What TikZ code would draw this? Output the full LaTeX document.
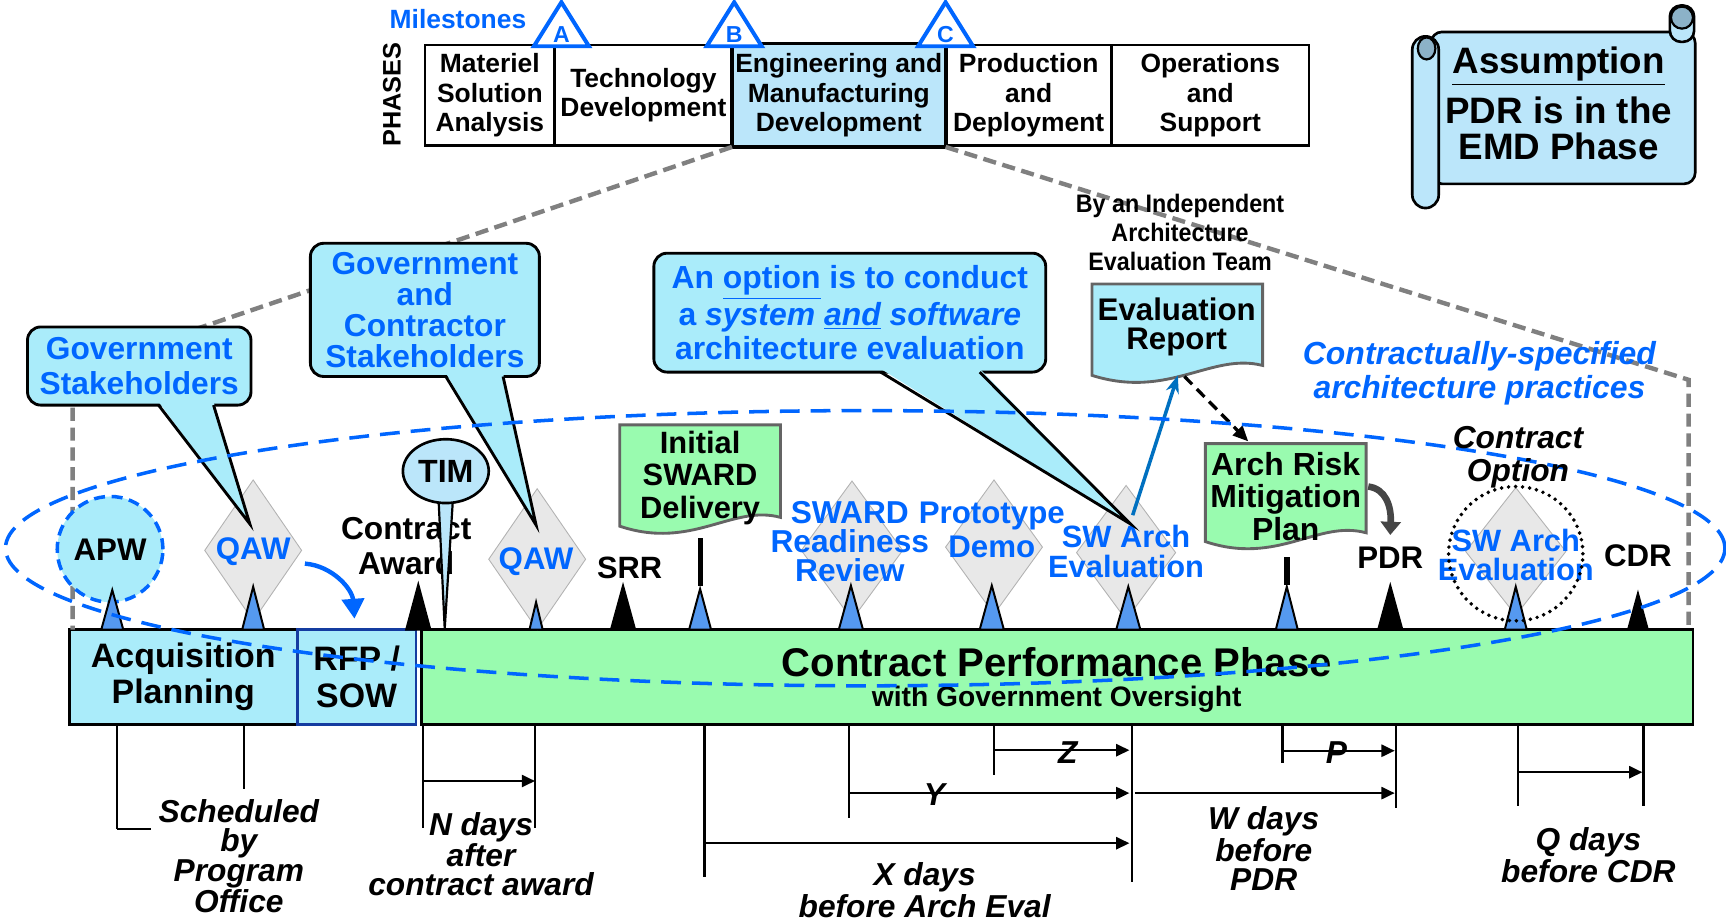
\documentclass[tikz,border=0pt]{standalone}
\usepackage{fontspec}
\setmainfont{Liberation Sans}
\newfontfamily\narrowsans[FakeStretch=0.92]{Liberation Sans}
\usetikzlibrary{arrows.meta,positioning,shapes.geometric,calc}

\definecolor{calloutcyan}{RGB}{170,236,250}
\definecolor{scrollblue}{RGB}{187,230,250}
\definecolor{scrollcurl}{RGB}{140,178,200}
\definecolor{phasegreen}{RGB}{153,251,175}
\definecolor{labelblue}{RGB}{0,102,255}
\definecolor{markblue}{RGB}{85,153,240}
\definecolor{diamgray}{RGB}{232,232,232}
\definecolor{guidegray}{RGB}{128,128,128}
\definecolor{docline}{RGB}{100,100,100}
\definecolor{arrowblue}{RGB}{0,112,192}
\definecolor{rfpborder}{RGB}{20,60,160}

\newcommand{\fs}[2]{\fontsize{#1}{#2}\selectfont}
% document shape with wavy bottom: fill, x1, x2, top, right bottom, left bottom
\newcommand{\wavedoc}[6]{%
  \filldraw[fill=#1, draw=docline, line width=1.3pt] (#2,#4) -- (#3,#4) -- (#3,#5)
    .. controls ({#3-0.3*(#3-#2)},{#5-12}) and ({#2+0.45*(#3-#2)},{#6+22}) .. (#2,#6) -- cycle;}
% callout pointer: left x, right x, box bottom, tip
\newcommand{\callptr}[4]{%
  \fill[calloutcyan] (#1,#3-3) -- (#4) -- (#2,#3-3) -- cycle;
  \draw[line width=1.3pt] (#1,#3) -- (#4) -- (#2,#3);}

\begin{document}
\begin{tikzpicture}[x=0.5pt, y=-0.5pt,
  phase/.style={draw, line width=1.2pt, inner sep=0pt, outer sep=0pt, minimum height=45.5pt, align=center, font={\bfseries\fs{12}{13.25}}},
  barbox/.style={draw, line width=1.2pt, inner sep=0pt, outer sep=0pt, minimum height=43pt, align=center, font={\bfseries\fs{15.4}{16.5}}},
  callbox/.style={draw, line width=1.3pt, fill=calloutcyan, rounded corners=6pt, inner sep=0pt, align=center, text=labelblue},
  gdiam/.style={diamond, fill=diamgray, draw=gray!60, line width=0.4pt, inner sep=0pt, outer sep=0pt},
  lbl/.style={inner sep=0pt, align=center},
  bluelbl/.style={lbl, text=labelblue},
  guide/.style={guidegray, line width=2pt, dash pattern=on 6pt off 3pt},
  bmark/.style={fill=markblue, draw=black, line width=0.9pt},
  kmark/.style={fill=black, draw=black, line width=0.9pt},
  dimline/.style={line width=1pt},
  dimarrow/.style={line width=1pt, -{Triangle[length=6pt,width=5.5pt]}},
  dimlbl/.style={inner sep=0pt, align=center, font={\bfseries\itshape\fs{14.4}{13.25}}}
]
\useasboundingbox (0,0) rectangle (1568,837);

% acquisition phases
\node[phase, anchor=west, minimum width=59pt] (msa) at (386,86.5) {Materiel\\Solution\\Analysis};
\node[phase, right=0pt of msa, minimum width=80.5pt] (tech) {Technology\\Development};
\node[phase, right=0pt of tech, minimum width=97pt, minimum height=47pt, fill=scrollblue, line width=1.8pt] (emd) {Engineering and\\Manufacturing\\Development};
\node[phase, right=0pt of emd, minimum width=75.5pt] (prod) {Production\\and\\Deployment};
\node[phase, right=0pt of prod, minimum width=89.5pt] (ops) {Operations\\and\\Support};
\node[lbl, rotate=90, font={\bfseries\fs{11.5}{12}}] (phlabel) at (356,86) {PHASES};
\node[bluelbl, font={\bfseries\fs{12}{13}}] (mslabel) at (416,17) {Milestones};
\foreach \x/\m in {510/A, 667/B, 859/C} {
  \filldraw[fill=white, draw=labelblue, line width=1.8pt] (\x-25,42) -- (\x,2) -- (\x+25,42) -- cycle;
  \node[bluelbl, font={\bfseries\fs{10.5}{11}}] (ms\m) at (\x,31) {\m};
}

% assumption scroll
\filldraw[fill=scrollblue, line width=1.2pt, rounded corners=5pt] (1300,29) -- (1540,29) -- (1540,167) -- (1300,167) -- cycle;
\filldraw[fill=scrollblue, line width=1.2pt, rounded corners=6pt] (1283,33) rectangle (1307,189);
\filldraw[fill=scrollcurl, line width=1pt] (1296,44) ellipse [x radius=4pt, y radius=5pt];
\filldraw[fill=scrollblue, line width=1.2pt, rounded corners=5pt] (1517,5) rectangle (1539,38);
\filldraw[fill=scrollcurl, line width=1pt] (1528,16) circle [radius=5pt];
\node[lbl, font={\bfseries\fs{16.7}{18}}] (asm1) at (1416,60) {\underline{Assumption}};
\node[lbl, font={\bfseries\fs{16.7}{18}}] (asm2) at (1416,100) {PDR is in the};
\node[lbl, font={\bfseries\fs{16.7}{18}}] (asm3) at (1416,133) {EMD Phase};

% program timeline
\node[barbox, fill=calloutcyan, minimum width=103.5pt, anchor=north west] (acq) at (63,572) {Acquisition\\Planning};
\node[barbox, fill=calloutcyan, draw=rfpborder, minimum width=54pt, anchor=north west] (rfp) at (270,572) {RFP /\\SOW};
\node[barbox, fill=phasegreen, minimum width=577.5pt, anchor=north west] (cpp) at (383,572) {};
\node[lbl, font={\bfseries\fs{18.2}{20}}] (cppt) at (960,602) {Contract Performance Phase};
\node[lbl, font={\bfseries\fs{12.8}{14}}] (cpps) at (960,635) {with Government Oversight};

% zoom lines from EMD
\coordinate (gl) at (66,337);
\coordinate (gr) at (1534,345);
\draw[guide] (emd.south west) -- (gl) -- (66,572);
\draw[guide] (emd.south east) -- (gr) -- (1534,572);

\node[lbl, font={\narrowsans\bfseries\fs{11.5}{13.25}}] (indep) at (1072,211) {By an Independent\\Architecture\\Evaluation Team};

% events
\node[gdiam, minimum width=44pt, minimum height=64pt] (qawAd) at (230,500) {};
\node[gdiam, minimum width=44pt, minimum height=64pt] (qawBd) at (488,508) {};
\node[gdiam, minimum width=46pt, minimum height=63pt] (swrrd) at (774,500) {};
\node[gdiam, minimum width=44pt, minimum height=61pt] (protod) at (903,497) {};
\node[gdiam, minimum width=45pt, minimum height=61pt] (swad) at (1023,502) {};
\node[gdiam, minimum width=45.5pt, minimum height=58pt] (swaod) at (1377,501) {};
\node[circle, fill=calloutcyan, draw=labelblue, line width=1.6pt, dash pattern=on 5pt off 3pt, minimum size=48pt, inner sep=0pt, font={\bfseries\fs{14.2}{15}}] (apw) at (100,499) {APW};

\foreach \x/\a/\h in {102/536/10, 230/533/10, 487/547/6, 636/535/10, 773/532/11, 901/532/11, 1025/533/11, 1169/533/10, 1377/533/10}
  \filldraw[bmark] (\x-\h,572) -- (\x,\a) -- (\x+\h,572) -- cycle;
\foreach \x/\a/\h in {380/531/11, 566/532/11, 1263/532/11, 1488/539/9}
  \filldraw[kmark] (\x-\h,572) -- (\x,\a) -- (\x+\h,572) -- cycle;
\draw[line width=2.5pt] (636.5,489) -- (636.5,532);
\draw[line width=3pt] (1169,506) -- (1169,531);

\node[lbl, font={\bfseries\fs{14.4}{16}}] (award) at (369,496) {Contract\\Award};
\node[lbl, font={\bfseries\fs{14}{15}}] (srr) at (572,516) {SRR};
\node[lbl, font={\bfseries\fs{14.2}{15}}] (pdr) at (1263,507) {PDR};
\node[lbl, font={\bfseries\fs{14.2}{15}}] (cdr) at (1488,505) {CDR};
\node[bluelbl, font={\bfseries\fs{14.2}{15}}] (qawA) at (230,501) {QAW};
\node[bluelbl, font={\bfseries\fs{14.2}{15}}] (qawB) at (487,510) {QAW};
\node[bluelbl, font={\bfseries\fs{14.4}{13.25}}] (swrr) at (772,492) {SWARD\\Readiness\\Review};
\node[bluelbl, font={\bfseries\fs{14.2}{15.5}}] (proto) at (901,481) {Prototype\\Demo};
\node[bluelbl, font={\bfseries\fs{14}{13.8}}] (swa) at (1023,501) {SW Arch\\Evaluation};
\node[bluelbl, font={\bfseries\fs{14}{13}}] (swao) at (1377,504) {SW Arch\\Evaluation};

% TIM
\coordinate (timtip) at (404,571);
\filldraw[fill=scrollblue, line width=1pt] (398,445) -- (timtip) -- (412,445) -- cycle;
\node[ellipse, fill=scrollblue, draw, line width=1.2pt, minimum width=39pt, minimum height=29pt, inner sep=0pt, font={\bfseries\fs{14.6}{15}}] (tim) at (405,428) {TIM};

% documents
\wavedoc{phasegreen}{563}{709}{386}{470}{478}
\node[lbl, font={\bfseries\fs{14}{14.75}}] (isd) at (636,434) {Initial\\SWARD\\Delivery};
\wavedoc{phasegreen}{1095}{1241}{403}{484}{492}
\node[lbl, font={\bfseries\fs{14.5}{14.75}}] (armp) at (1168,451) {Arch Risk\\Mitigation\\Plan};
\wavedoc{calloutcyan}{992}{1147}{258}{332}{341}
\node[lbl, font={\bfseries\fs{14.2}{13.5}}] (evr) at (1069,297) {Evaluation\\Report};

% callouts
\node[callbox, minimum width=101.5pt, minimum height=35.5pt, font={\bfseries\fs{14.4}{15.75}}] (govst) at (126.5,332.5) {Government\\Stakeholders};
\coordinate (govtip) at (227,476);
\callptr{144}{194}{368}{govtip}
\node[callbox, minimum width=104pt, minimum height=60.5pt, font={\bfseries\fs{14.4}{14}}] (gcst) at (386,281.5) {Government\\and\\Contractor\\Stakeholders};
\coordinate (gcstip) at (487,477);
\callptr{405}{457}{342}{gcstip}
\node[callbox, minimum width=178pt, minimum height=54pt, font={\bfseries\fs{14.5}{15.5}}] (optc) at (772,284) {An \underline{option} is to conduct\\a \textit{system \underline{and} software}\\architecture evaluation};
\coordinate (opttip) at (1027,476);
\callptr{800}{890}{338}{opttip}

% flows
\coordinate (qawout) at (277,512);
\coordinate (rfpin) at (322,562);
\draw[labelblue, line width=2pt, -{Triangle[length=9pt,width=10pt]}] (qawout) .. controls (302,514) and (320,535) .. (rfpin);
\coordinate (swaup) at (1029,468);
\coordinate (evrin) at (1070,341);
\draw[arrowblue, line width=1.6pt, -{Stealth[length=8pt,width=6pt]}] (swaup) -- (evrin);
\coordinate (evrout) at (1076,342);
\coordinate (armpin) at (1134,401);
\draw[line width=1.5pt, dash pattern=on 5pt off 3pt, -{Triangle[length=7pt,width=6pt]}] (evrout) -- (armpin);
\coordinate (armpout) at (1243,442);
\coordinate (pdrin) at (1263,486);
\draw[gray!55!black, line width=3pt, -{Triangle[length=6pt,width=9pt]}] (armpout) .. controls (1259,444) and (1264,460) .. (pdrin);

% time spans
\foreach \x/\y in {106/753, 222/717, 384/752, 486/752, 640/797, 771/743, 903/704, 1028/801, 1165/693, 1268/734, 1379/732, 1493/732}
  \draw[dimline] (\x,658) -- (\x,\y);
\draw[dimline] (106,753) -- (137,753);
\foreach \a/\b/\y in {384/486/709.5, 640/1026/766, 771/1026/720.5, 903/1026/681.5, 1031/1267/720.5, 1165/1267/682, 1379/1492/701.5}
  \draw[dimarrow] (\a,\y) -- (\b,\y);
\node[dimlbl] (schedlbl) at (217,778) {Scheduled\\by\\Program\\Office};
\node[dimlbl] (nlbl) at (437,776) {N days\\after\\contract award};
\node[dimlbl] (xlbl) at (840,809) {X days\\before Arch Eval};
\node[dimlbl] (wlbl) at (1148,771) {W days\\before\\PDR};
\node[dimlbl] (qlbl) at (1443,777) {Q days\\before CDR};
\node[dimlbl] (ylbl) at (849,722) {Y};
\node[dimlbl] (zlbl) at (970,684) {Z};
\node[dimlbl] (plbl) at (1214,684) {P};

% contractually-specified practices
\draw[labelblue, line width=1.6pt, dash pattern=on 9pt off 5pt] (786,498) ellipse [x radius=390.5pt, y radius=62.5pt];
\node[bluelbl, font={\bfseries\itshape\fs{14.5}{15.25}}] (cspec) at (1344,339) {Contractually-specified\\architecture practices};
\node[lbl, font={\bfseries\itshape\fs{14.4}{15}}] (copt) at (1379,415) {Contract\\Option};
\draw[line width=1.8pt, dash pattern=on 0pt off 3.2pt, line cap=round] (1377,503) circle [radius=30.5pt];
\end{tikzpicture}
\end{document}
